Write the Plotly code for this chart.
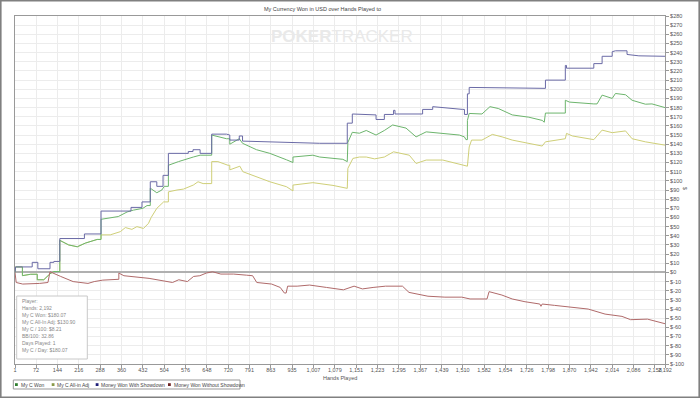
import plotly.graph_objects as go

# ---------------- data (hands played, dollars) ----------------
won_hands = [1, 3, 26, 26, 54, 76, 76, 98, 119, 132, 152, 152, 182, 211, 238, 278, 291, 291, 349, 379, 400, 432, 446, 457, 457, 479, 496, 504, 518, 518, 552, 569, 602, 625, 664, 664, 714, 725, 725, 757, 768, 815, 860, 916, 938, 938, 1005, 1028, 1073, 1106, 1121, 1123, 1138, 1162, 1185, 1213, 1218, 1246, 1274, 1319, 1353, 1387, 1443, 1499, 1516, 1521, 1526, 1526, 1532, 1575, 1602, 1630, 1677, 1733, 1778, 1785, 1789, 1856, 1856, 1870, 1952, 1963, 1980, 2014, 2025, 2059, 2081, 2126, 2148, 2192]
won_vals = [0, 6, 6, -3.5, -2, -2, -8, -8, -1.5, 1, 1, 35, 30, 28, 32, 36, 36, 58, 61, 66, 68, 70, 73, 73, 92, 87, 90, 94, 94, 117, 121, 123, 126, 128, 128, 150, 146, 146, 140, 146, 141, 134, 130, 123, 120, 126, 128, 126, 125, 123.5, 121, 142, 153, 152, 155, 151, 150, 155, 161, 157.6, 148, 153.5, 152, 150, 148, 145, 145, 166, 173.6, 173, 181, 179, 172, 169.5, 166, 164, 174, 174, 188, 186, 184, 184, 193.6, 190, 195.4, 194, 188, 183.7, 184, 180]

adj_hands = [1, 3, 26, 26, 54, 76, 76, 98, 119, 132, 152, 152, 182, 211, 238, 278, 291, 291, 322, 356, 373, 395, 412, 434, 451, 460, 479, 502, 518, 518, 547, 569, 602, 618, 635, 664, 664, 685, 719, 725, 725, 759, 769, 815, 860, 916, 938, 938, 1005, 1073, 1121, 1123, 1140, 1162, 1185, 1213, 1246, 1277, 1330, 1353, 1387, 1443, 1465, 1521, 1526, 1532, 1540, 1575, 1610, 1643, 1677, 1778, 1789, 1856, 1860, 1880, 1952, 1980, 2014, 2059, 2081, 2126, 2192]
adj_vals = [0, 6, 6, -3.5, -2, -2, -8, -8, -1.5, 1, 1, 35, 30, 28, 32, 36, 36, 41, 41, 44.5, 49, 47, 50, 48, 53.6, 60, 70, 77, 77, 88, 90, 91, 95.4, 99, 97, 97, 121, 121, 117, 117, 112, 116, 110, 104, 99, 93.6, 89, 95.4, 98, 95, 91.8, 113.6, 124.5, 126, 126, 124, 126, 131.7, 128, 119, 122.7, 122.7, 121, 116, 116, 137, 144.5, 144.5, 150.7, 148, 144.5, 138, 142.6, 146, 151.8, 149, 145, 155.4, 152.6, 154.5, 146, 142.6, 139]

sd_hands = [1, 3, 59, 59, 78, 78, 119, 119, 132, 132, 152, 152, 235, 235, 291, 291, 392, 392, 429, 429, 457, 457, 479, 479, 500, 500, 518, 518, 585, 585, 601, 601, 625, 625, 664, 664, 714, 725, 725, 757, 757, 768, 768, 933, 1028, 1121, 1121, 1138, 1138, 1218, 1218, 1246, 1246, 1277, 1277, 1282, 1282, 1375, 1375, 1409, 1409, 1510, 1516, 1516, 1526, 1526, 1532, 1532, 1722, 1789, 1789, 1856, 1856, 1860, 1860, 1952, 1952, 1980, 1980, 2014, 2014, 2025, 2064, 2064, 2104, 2192]
sd_vals = [0, 6, 6, 11, 11, 4, 4, 11, 11, 12, 12, 37, 37, 42, 42, 67, 67, 71, 71, 77, 77, 99, 99, 94, 94, 106, 106, 130, 130, 132, 132, 134, 134, 130, 130, 151, 151, 150, 144.5, 144.5, 149, 149, 143.4, 141.6, 141, 141, 163, 163, 173, 172, 167, 167, 172.5, 172.5, 177, 177, 173, 173, 178, 178, 181, 178, 178, 172.5, 172.5, 195, 195, 202, 201, 201, 210, 210, 226, 226, 223, 223, 228, 228, 236, 236, 241, 242, 242, 238, 236.5, 236]

nsd_hands = [1, 5, 27, 55, 84, 112, 119, 155, 197, 247, 268, 297, 333, 351, 351, 368, 453, 496, 532, 553, 582, 603, 624, 646, 667, 695, 738, 781, 802, 816, 866, 895, 909, 915, 920, 952, 994, 1051, 1108, 1144, 1172, 1208, 1250, 1307, 1329, 1393, 1450, 1507, 1535, 1592, 1599, 1642, 1677, 1720, 1770, 1774, 1778, 1820, 1891, 1933, 1990, 2047, 2076, 2133, 2192]
nsd_vals = [0, -11, -12.7, -12.7, -12, -11, 0.7, -4.4, -10, -12, -10, -8.4, -7.5, -7.5, -0.7, -3.6, -6.5, -9, -11, -8, -10, -4.4, -3.6, -0.7, 0.7, -1.8, -1.8, -3, -3.6, -11, -12.7, -16.4, -22.5, -22.5, -15, -15, -13.8, -16.4, -19, -15, -18, -16.4, -15, -15, -21.8, -26, -27, -27, -29, -29, -21, -24.7, -29, -32, -34.5, -37, -34.5, -36, -39, -40, -45.5, -48, -51.6, -51, -56]

x_ticks = [1, 72, 144, 216, 288, 360, 432, 504, 576, 648, 720, 791, 863, 935, 1007, 1079, 1151, 1223, 1295, 1367, 1439, 1510, 1582, 1654, 1726, 1798, 1870, 1942, 2014, 2086, 2158, 2192]
y_ticks = list(range(-100, 281, 10))

series_names = ["My C Won", "My C All-in Adj", "Money Won With Showdown", "Money Won Without Showdown"]
stats_lines = ["Player:", "Hands: 2,192", "My C Won: $180.07", "My C All-In Adj: $130.90",
               "My C / 100: $8.21", "BB/100: 32.86", "Days Played: 1", "My C / Day: $180.07"]

# ---------------- styling ----------------
W, H = 700, 398
L, R, T, B = 15, 665, 16, 364
FONT = "Liberation Sans, Arial, sans-serif"
line_cols = ["#6db56d", "#cfcf78", "#6a6aa6", "#b06a6a"]
leg_cols = ["#2f7f2f", "#8a9a4a", "#1f1f7a", "#6e2424"]

def px(xp):
    return (xp - L) / (R - L)

def py(yp):
    return (B - yp) / (B - T)

fig = go.Figure()
for hx, vy, c, n in [(adj_hands, adj_vals, line_cols[1], series_names[1]),
                     (won_hands, won_vals, line_cols[0], series_names[0]),
                     (sd_hands, sd_vals, line_cols[2], series_names[2]),
                     (nsd_hands, nsd_vals, line_cols[3], series_names[3])]:
    fig.add_trace(go.Scatter(x=hx, y=vy, mode="lines", name=n,
                             line=dict(color=c, width=1), showlegend=False,
                             hoverinfo="skip"))

fig.update_layout(
    width=W, height=H,
    margin=dict(l=L, r=W - R, t=T, b=H - B),
    paper_bgcolor="white", plot_bgcolor="white",
    font=dict(family=FONT, size=6, color="#555"),
    xaxis=dict(range=[1, 2192], tickvals=x_ticks,
               ticktext=[f"{v:,}" for v in x_ticks], tickangle=0,
               tickfont=dict(size=5.5, color="#555"), ticklabelstandoff=-3,
               showgrid=True, gridcolor="#ececec", gridwidth=1,
               showline=True, linecolor="#999", linewidth=1, mirror=True,
               ticks="outside", ticklen=3, tickcolor="#999", zeroline=False),
    yaxis=dict(range=[-100, 280], side="right", tickvals=y_ticks,
               ticktext=[f"${v}" for v in y_ticks],
               tickfont=dict(size=5.5, color="#555"),
               showgrid=True, gridcolor="#ececec", gridwidth=1,
               showline=True, linecolor="#999", linewidth=1, mirror=True,
               ticks="outside", ticklen=3, tickcolor="#999",
               zeroline=True, zerolinecolor="#b0b0b0", zerolinewidth=2),
)

ann = []
shapes = []
# title
ann.append(dict(x=px(322), y=py(9), xref="paper", yref="paper", text="My Currency Won in USD over Hands Played to",
                showarrow=False, font=dict(size=5.5, color="#444"), xanchor="center", yanchor="middle"))
# watermark
ann.append(dict(x=px(342), y=py(37), xref="paper", yref="paper", text="<b>POKER</b>TRACKER",
                showarrow=False, font=dict(size=17, color="#e9e9e9", family="Liberation Sans Narrow, Arial Narrow, sans-serif"),
                xanchor="center", yanchor="middle"))
# x axis title
ann.append(dict(x=px(340), y=py(377.5), xref="paper", yref="paper", text="Hands Played",
                showarrow=False, font=dict(size=5.5, color="#555"), xanchor="center", yanchor="middle"))
# y axis title mark
ann.append(dict(x=px(685), y=py(189), xref="paper", yref="paper", text="$",
                showarrow=False, font=dict(size=5, color="#555"), textangle=90, xanchor="center", yanchor="middle"))

# stats box
shapes.append(dict(type="rect", xref="paper", yref="paper", x0=px(16.7), x1=px(87.3), y0=py(359), y1=py(296),
                   line=dict(color="#c8c8c8", width=1), fillcolor="white", layer="above"))
for i, s in enumerate(stats_lines):
    ann.append(dict(x=px(19.5), y=py(300.7 + i * 7.08), xref="paper", yref="paper", text=s,
                    showarrow=False, font=dict(size=5, color="#888"), xanchor="left", yanchor="middle"))

# legend
shapes.append(dict(type="rect", xref="paper", yref="paper", x0=px(13.3), x1=px(240), y0=py(389), y1=py(380),
                   line=dict(color="#999", width=1), fillcolor="white", layer="above"))
leg_x = [15, 51.7, 95.7, 168]
for i, n in enumerate(series_names):
    shapes.append(dict(type="rect", xref="paper", yref="paper", x0=px(leg_x[i]), x1=px(leg_x[i] + 2.8),
                       y0=py(386), y1=py(383.2), line=dict(width=0), fillcolor=leg_cols[i], layer="above"))
    ann.append(dict(x=px(leg_x[i] + 3.6), y=py(384.6), xref="paper", yref="paper", text=n,
                    showarrow=False, font=dict(size=5, color="#444"), xanchor="left", yanchor="middle"))

# outer frame
shapes.append(dict(type="rect", xref="paper", yref="paper", x0=px(0.8), x1=px(699.2), y0=py(397.2), y1=py(0.8),
                   line=dict(color="#808080", width=1.6), fillcolor="rgba(0,0,0,0)", layer="above"))

fig.update_layout(annotations=ann, shapes=shapes)
fig.write_html("out.html")
